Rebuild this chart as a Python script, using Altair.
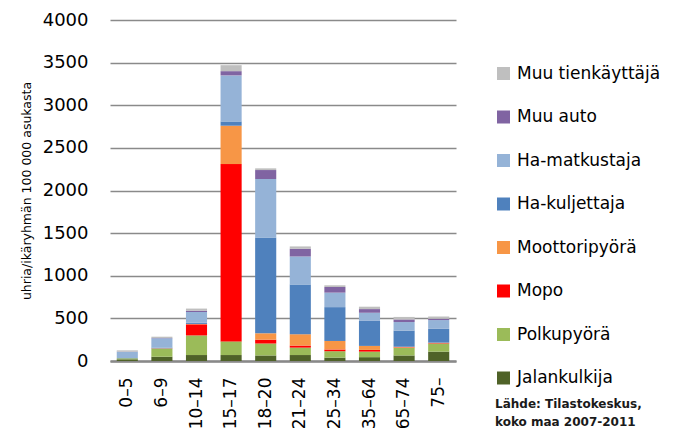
import altair as alt
import pandas as pd

ages = ["0–5", "6–9", "10–14", "15–17", "18–20", "21–24", "25–34", "35–64", "65–74", "75–"]

# stack order, bottom to top
series = ["Jalankulkija", "Polkupyörä", "Mopo", "Moottoripyörä",
          "Ha-kuljettaja", "Ha-matkustaja", "Muu auto", "Muu tienkäyttäjä"]
colors = ["#4F6228", "#9BBB59", "#FF0000", "#F79646",
          "#4F81BD", "#95B3D7", "#8064A2", "#BFBFBF"]

jalankulkija = [20, 50, 70, 70, 65, 70, 40, 45, 65, 110]
polkupyora = [12, 95, 230, 160, 140, 87, 75, 65, 90, 95]
mopo = [0, 2, 130, 2080, 45, 24, 20, 20, 5, 5]
moottoripyora = [0, 2, 5, 450, 75, 133, 100, 47, 7, 5]
ha_kuljettaja = [3, 8, 15, 50, 1125, 582, 397, 298, 190, 162]
ha_matkustaja = [72, 110, 125, 540, 685, 330, 170, 91, 100, 103]
muu_auto = [3, 3, 15, 50, 105, 91, 66, 43, 30, 15]
muu_tienkayttaja = [15, 15, 25, 70, 20, 27, 20, 28, 30, 27]

values = [jalankulkija, polkupyora, mopo, moottoripyora,
          ha_kuljettaja, ha_matkustaja, muu_auto, muu_tienkayttaja]

rows = []
for si, (name, vals) in enumerate(zip(series, values)):
    for age, v in zip(ages, vals):
        rows.append({"age": age, "series": name, "value": v, "idx": si})
df = pd.DataFrame(rows)

FONT = "DejaVu Sans"

chart = alt.Chart(df).mark_bar().encode(
    x=alt.X("age:N", sort=ages, title=None,
            scale=alt.Scale(paddingInner=0.39, paddingOuter=0.195),
            axis=alt.Axis(labelAngle=-90, labelFont=FONT, labelFontSize=17,
                          labelColor="black", labelPadding=16, ticks=False,
                          domainColor="#898989", domainWidth=2.5, grid=False)),
    y=alt.Y("value:Q", stack="zero",
            title="uhria/ikäryhmän  100 000 asukasta",
            scale=alt.Scale(domain=[0, 4000], nice=False),
            axis=alt.Axis(values=list(range(0, 4001, 500)), format="d",
                          labelFont=FONT, labelFontSize=18, labelColor="black",
                          labelPadding=22, ticks=False, domain=False,
                          gridColor="#8a8a8a", gridWidth=1.5, titleFont=FONT,
                          titleFontSize=12.5, titleFontWeight="normal",
                          titleColor="black", titlePadding=9)),
    color=alt.Color("series:N",
                    scale=alt.Scale(domain=series[::-1], range=colors[::-1]),
                    legend=alt.Legend(orient="none", legendX=385, legendY=45,
                                      title=["Lähde: Tilastokeskus,", "koko maa 2007-2011"],
                                      titleOrient="bottom", titleAnchor="start",
                                      titleFont=FONT, titleFontSize=12,
                                      titleFontWeight="bold", titleColor="#1a1a1a",
                                      titleLineHeight=18, titlePadding=13,
                                      symbolType="square", symbolSize=169,
                                      symbolStrokeWidth=0, labelFont=FONT,
                                      labelFontSize=17, labelColor="black",
                                      labelOffset=5, labelLimit=300,
                                      rowPadding=25.5, padding=0)),
    order=alt.Order("idx:Q", sort="ascending"),
).properties(
    width=346, height=341,
    autosize=alt.AutoSizeParams(type="none"),
    padding={"left": 102, "top": 12, "right": 226, "bottom": 70},
).configure_view(stroke=None)

chart.save("out.html", embed_options={"renderer": "svg", "actions": False})
